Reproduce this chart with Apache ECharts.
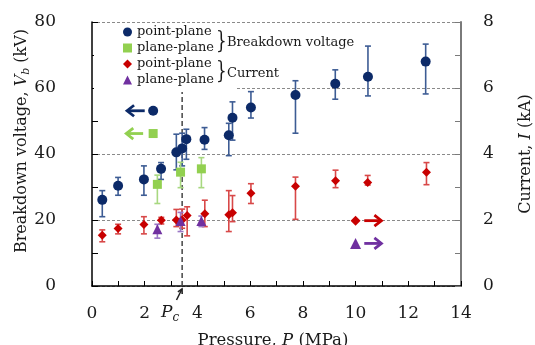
<!DOCTYPE html>
<html><head><meta charset="utf-8">
<script src="https://cdn.jsdelivr.net/npm/echarts@6/dist/echarts.min.js"></script>
<style>html,body{margin:0;padding:0;background:#fff}#c{width:535px;height:345px}</style>
</head><body><div id="c"></div>
<script>
// ---------- data ----------
const X_TICK_LABELS = [0, 2, 4, 6, 8, 10, 12, 14];
const Y_LEFT_TICK_LABELS = [0, 20, 40, 60, 80];
const Y_RIGHT_TICK_LABELS = [0, 2, 4, 6, 8];
const PC = 3.42;

// Breakdown voltage, point-plane (kV)
const BV_PT_P  = [0.39, 0.99, 1.97, 2.62, 3.20, 3.42, 3.58, 4.27, 5.19, 5.33, 6.03, 7.72, 9.23, 10.47, 12.66];
const BV_PT_V  = [26.1, 30.4, 32.3, 35.5, 40.5, 41.7, 44.5, 44.3, 45.7, 51.0, 54.1, 57.9, 61.3, 63.4, 68.0];
const BV_PT_LO = [21.0, 27.5, 27.5, 32.3, 35.2, 36.4, 38.4, 41.4, 39.5, 44.2, 50.9, 46.3, 56.6, 57.6, 58.2];
const BV_PT_HI = [28.9, 32.9, 36.4, 37.4, 46.0, 46.3, 47.5, 48.0, 49.3, 55.8, 58.9, 62.2, 65.5, 72.7, 73.3];

// Breakdown voltage, plane-plane (kV)
const BV_PL_P  = [2.48, 3.36, 4.15];
const BV_PL_V  = [30.8, 34.5, 35.5];
const BV_PL_LO = [25.0, 29.8, 29.8];
const BV_PL_HI = [33.6, 37.5, 38.9];

// Current, point-plane (kA)
const I_PT_P  = [0.39, 0.99, 1.97, 2.63, 3.20, 3.42, 3.61, 4.28, 5.19, 5.33, 6.03, 7.72, 9.24, 10.46, 12.69];
const I_PT_I  = [1.54, 1.74, 1.86, 1.99, 2.00, 2.00, 2.14, 2.19, 2.16, 2.22, 2.81, 3.02, 3.19, 3.14, 3.45];
const I_PT_LO = [1.34, 1.58, 1.58, 1.88, 1.80, 1.75, 1.52, 1.80, 1.65, 1.95, 2.50, 2.02, 2.98, 3.06, 3.07];
const I_PT_HI = [1.70, 1.87, 2.10, 2.08, 2.32, 2.33, 2.40, 2.60, 2.89, 2.74, 3.10, 3.30, 3.51, 3.35, 3.74];

// Current, plane-plane (kA)
const I_PL_P  = [2.48, 3.36, 4.15];
const I_PL_I  = [1.72, 1.97, 1.97];
const I_PL_LO = [1.45, 1.65, 1.80];
const I_PL_HI = [1.87, 2.23, 2.12];

// axis-indicator annotations (marker + arrow)
const ANN_LEFT_P = [2.32, 2.32];
const ANN_LEFT_V = [53.1, 46.2];
const ANN_LEFT_ARROW_FROM = [2.00, 1.94];
const ANN_LEFT_ARROW_TO   = [1.33, 1.30];
const ANN_RIGHT_P = [10.0, 10.0];
const ANN_RIGHT_I = [1.98, 1.29];
const ANN_RIGHT_ARROW_FROM = [10.33, 10.33];
const ANN_RIGHT_ARROW_TO   = [10.98, 10.98];

// ---------- styles ----------
const FONT = 'DejaVu Serif';
const C_NAVY = '#0c2a68', C_NAVY_ERR = '#3d5c94';
const C_GREEN = '#92d050', C_GREEN_ERR = '#a8d880';
const C_RED = '#c80000', C_RED_ERR = '#d84848';
const C_PURPLE = '#7030a0', C_PURPLE_ERR = '#9b78c6';

const zip4 = (a, b, c, d) => a.map((v, i) => [v, b[i], c[i], d[i]]);
const zip2 = (a, b) => a.map((v, i) => [v, b[i]]);

function errRender(color) {
  return function (params, api) {
    const x = api.value(0), lo = api.value(2), hi = api.value(3);
    const a = api.coord([x, hi]), b = api.coord([x, lo]);
    const w = 3, st = { stroke: color, lineWidth: 1.6 };
    return { type: 'group', children: [
      { type: 'line', shape: { x1: a[0], y1: a[1], x2: b[0], y2: b[1] }, style: st },
      { type: 'line', shape: { x1: a[0] - w, y1: a[1], x2: a[0] + w, y2: a[1] }, style: st },
      { type: 'line', shape: { x1: b[0] - w, y1: b[1], x2: b[0] + w, y2: b[1] }, style: st }
    ]};
  };
}
function errSeries(data, color, yIdx) {
  return { type: 'custom', yAxisIndex: yIdx, data: data, z: 2,
    dimensions: ['x', 'y', 'lo', 'hi'], encode: { x: 0, y: [1, 2, 3] },
    renderItem: errRender(color), silent: true };
}
function arrowRender(params, api) {
  const x1 = api.value(0), y = api.value(1), x2 = api.value(2);
  const color = api.visual('color');
  const a = api.coord([x1, y]), b = api.coord([x2, y]);
  const dir = Math.sign(b[0] - a[0]);
  const L = 7, h = 5.5;
  const st = { stroke: color, lineWidth: 2.8, fill: null, lineJoin: 'miter', lineCap: 'butt' };
  return { type: 'group', children: [
    { type: 'line', shape: { x1: a[0], y1: a[1], x2: b[0] - dir * 1, y2: b[1] }, style: st },
    { type: 'polyline', shape: { points: [[b[0] - dir * L, b[1] - h], [b[0], b[1]], [b[0] - dir * L, b[1] + h]] }, style: st }
  ]};
}

// Pc arrow (below x axis)
const pcTail = [176.5, 300], pcTip = [182, 289];
const pcArrow = (() => {
  const dx = pcTip[0] - pcTail[0], dy = pcTip[1] - pcTail[1];
  const len = Math.hypot(dx, dy), ux = dx / len, uy = dy / len;
  const L = 5, ang = 0.5;
  const rot = (x, y, t) => [x * Math.cos(t) - y * Math.sin(t), x * Math.sin(t) + y * Math.cos(t)];
  const r1 = rot(-ux, -uy, ang), r2 = rot(-ux, -uy, -ang);
  const st = { stroke: '#222', lineWidth: 1.6, fill: null };
  return { type: 'group', z: 10, children: [
    { type: 'line', shape: { x1: pcTail[0], y1: pcTail[1], x2: pcTip[0], y2: pcTip[1] }, style: st },
    { type: 'polyline', shape: { points: [[pcTip[0] + r1[0] * L, pcTip[1] + r1[1] * L], pcTip, [pcTip[0] + r2[0] * L, pcTip[1] + r2[1] * L]] }, style: st }
  ]};
})();

const chart = echarts.init(document.getElementById('c'), null, { renderer: 'canvas' });
const tickLabelStyle = { color: '#1a1a1a', fontFamily: FONT, fontSize: 17 };

const option = {
  animation: false,
  backgroundColor: '#fff',
  grid: { left: 92, right: 74, top: 22, bottom: 59, containLabel: false },
  xAxis: {
    type: 'value', min: 0, max: 14, interval: 2,
    axisLine: { show: true, onZero: false, lineStyle: { color: '#000', width: 1.5 } },
    axisTick: { show: true, inside: true, length: 5, lineStyle: { color: '#000', width: 1 } },
    minorTick: { show: true, splitNumber: 2, length: 5, lineStyle: { color: '#000', width: 1 } },
    splitLine: { show: false }, minorSplitLine: { show: false },
    axisLabel: { margin: 19, ...tickLabelStyle,
      formatter: v => X_TICK_LABELS.includes(v) ? String(v) : '' }
  },
  yAxis: [{
    type: 'value', min: 0, max: 80, interval: 20, position: 'left',
    axisLine: { show: true, onZero: false, lineStyle: { color: '#000', width: 1.5 } },
    axisTick: { show: true, inside: true, length: 6, lineStyle: { color: '#000', width: 1 } },
    minorTick: { show: true, splitNumber: 2, length: 6, lineStyle: { color: '#000', width: 1 } },
    splitLine: { show: true, lineStyle: { color: '#8a8a8a', width: 1, type: [3, 2] } },
    minorSplitLine: { show: false },
    axisLabel: { margin: 36, ...tickLabelStyle,
      formatter: v => Y_LEFT_TICK_LABELS.includes(v) ? String(v) : '' }
  }, {
    type: 'value', min: 0, max: 8, interval: 2, position: 'right',
    axisLine: { show: true, onZero: false, lineStyle: { color: '#7a7a7a', width: 2 } },
    axisTick: { show: true, inside: true, length: 6, lineStyle: { color: '#7a7a7a', width: 1 } },
    minorTick: { show: true, splitNumber: 2, length: 6, lineStyle: { color: '#7a7a7a', width: 1 } },
    splitLine: { show: false }, minorSplitLine: { show: false },
    axisLabel: { margin: 22, ...tickLabelStyle,
      formatter: v => Y_RIGHT_TICK_LABELS.includes(v) ? String(v) : '' }
  }],
  legend: {
    orient: 'vertical', left: 123, top: 24, padding: 0, itemGap: 0,
    itemWidth: 9, itemHeight: 9,
    textStyle: { fontFamily: FONT, fontSize: 13, color: '#1a1a1a', lineHeight: 16 },
    formatter: n => n.trim(),
    data: [
      { name: 'point-plane', icon: 'circle' },
      { name: 'plane-plane', icon: 'rect' },
      { name: 'point-plane ', icon: 'diamond' },
      { name: 'plane-plane ', icon: 'triangle' }
    ]
  },
  graphic: [
    { type: 'rect', z: 3, silent: true, shape: { x: 94, y: 25, width: 141, height: 67 }, style: { fill: '#fff' } },
    { type: 'text', z: 5, x: 216, y: 42, scaleX: 0.7, style: { text: '}', fontFamily: FONT, fontSize: 24, fill: '#1a1a1a', align: 'left', verticalAlign: 'middle' } },
    { type: 'text', z: 5, x: 227, y: 43, style: { text: 'Breakdown voltage', fontFamily: FONT, fontSize: 13, fill: '#1a1a1a', align: 'left', verticalAlign: 'middle' } },
    { type: 'text', z: 5, x: 216, y: 72, scaleX: 0.7, style: { text: '}', fontFamily: FONT, fontSize: 24, fill: '#1a1a1a', align: 'left', verticalAlign: 'middle' } },
    { type: 'text', z: 5, x: 227, y: 74, style: { text: 'Current', fontFamily: FONT, fontSize: 13, fill: '#1a1a1a', align: 'left', verticalAlign: 'middle' } },
    // P_c label
    { type: 'text', z: 5, x: 161, y: 313, style: {
        text: '{p|P}{c|c}', align: 'left', verticalAlign: 'middle', fill: '#1a1a1a',
        rich: { p: { fontFamily: FONT, fontStyle: 'italic', fontSize: 17, fill: '#1a1a1a' },
                c: { fontFamily: FONT, fontStyle: 'italic', fontSize: 12, fill: '#1a1a1a', padding: [9, 0, 0, 0] } } } },
    pcArrow,
    // axis titles
    { type: 'text', z: 5, x: 22, y: 141, rotation: Math.PI / 2, style: {
        text: '{t|Breakdown voltage, }{i|V}{s|b}{t| (kV)}', align: 'center', verticalAlign: 'middle',
        rich: { t: { fontFamily: FONT, fontSize: 16, fill: '#1a1a1a' },
                i: { fontFamily: FONT, fontSize: 16, fontStyle: 'italic', fill: '#1a1a1a' },
                s: { fontFamily: FONT, fontSize: 11, fontStyle: 'italic', fill: '#1a1a1a', padding: [8, 0, 0, 0] } } } },
    { type: 'text', z: 5, x: 526, y: 154, rotation: Math.PI / 2, style: {
        text: '{t|Current, }{i|I}{t| (kA)}', align: 'center', verticalAlign: 'middle',
        rich: { t: { fontFamily: FONT, fontSize: 16, fill: '#1a1a1a' },
                i: { fontFamily: FONT, fontSize: 16, fontStyle: 'italic', fill: '#1a1a1a' } } } },
    { type: 'text', z: 5, x: 273, y: 341, style: {
        text: '{t|Pressure, }{i|P}{t| (MPa)}', align: 'center', verticalAlign: 'middle',
        rich: { t: { fontFamily: FONT, fontSize: 16.5, fill: '#1a1a1a' },
                i: { fontFamily: FONT, fontSize: 16.5, fontStyle: 'italic', fill: '#1a1a1a' } } } }
  ],
  series: [
    // P_c dashed line (covered at top by the legend box)
    { type: 'line', name: 'Pc', yAxisIndex: 0, z: 1, silent: true, symbol: 'none',
      data: [[PC, 0], [PC, 80]], lineStyle: { color: '#444', width: 1.5, type: [5, 3] } },
    errSeries(zip4(BV_PT_P, BV_PT_V, BV_PT_LO, BV_PT_HI), C_NAVY_ERR, 0),
    errSeries(zip4(BV_PL_P, BV_PL_V, BV_PL_LO, BV_PL_HI), C_GREEN_ERR, 0),
    errSeries(zip4(I_PT_P, I_PT_I, I_PT_LO, I_PT_HI), C_RED_ERR, 1),
    errSeries(zip4(I_PL_P, I_PL_I, I_PL_LO, I_PL_HI), C_PURPLE_ERR, 1),
    { type: 'scatter', name: 'point-plane', yAxisIndex: 0, z: 4, symbol: 'circle', symbolSize: 10,
      itemStyle: { color: C_NAVY, opacity: 1 }, data: zip2(BV_PT_P, BV_PT_V) },
    { type: 'scatter', name: 'plane-plane', yAxisIndex: 0, z: 4, symbol: 'rect', symbolSize: 9,
      itemStyle: { color: C_GREEN, opacity: 1 }, data: zip2(BV_PL_P, BV_PL_V) },
    { type: 'scatter', name: 'point-plane ', yAxisIndex: 1, z: 4, symbol: 'diamond', symbolSize: 9,
      itemStyle: { color: C_RED, opacity: 1 }, data: zip2(I_PT_P, I_PT_I) },
    { type: 'scatter', name: 'plane-plane ', yAxisIndex: 1, z: 4, symbol: 'triangle', symbolSize: 10,
      itemStyle: { color: C_PURPLE, opacity: 1 }, data: zip2(I_PL_P, I_PL_I) },
    // annotation markers
    { type: 'scatter', name: 'annL', yAxisIndex: 0, z: 4, silent: true, itemStyle: { opacity: 1 },
      data: [
        { value: [ANN_LEFT_P[0], ANN_LEFT_V[0]], symbol: 'circle', symbolSize: 10, itemStyle: { color: C_NAVY, opacity: 1 } },
        { value: [ANN_LEFT_P[1], ANN_LEFT_V[1]], symbol: 'rect', symbolSize: 9, itemStyle: { color: C_GREEN, opacity: 1 } }
      ] },
    { type: 'scatter', name: 'annR', yAxisIndex: 1, z: 4, silent: true, itemStyle: { opacity: 1 },
      data: [
        { value: [ANN_RIGHT_P[0], ANN_RIGHT_I[0]], symbol: 'diamond', symbolSize: 10, itemStyle: { color: C_RED, opacity: 1 } },
        { value: [ANN_RIGHT_P[1], ANN_RIGHT_I[1]], symbol: 'triangle', symbolSize: 11, itemStyle: { color: C_PURPLE, opacity: 1 } }
      ] },
    { type: 'custom', name: 'arrL', yAxisIndex: 0, z: 4, silent: true, renderItem: arrowRender,
      encode: { x: [0, 2], y: 1 },
      data: [
        { value: [ANN_LEFT_ARROW_FROM[0], ANN_LEFT_V[0], ANN_LEFT_ARROW_TO[0]], itemStyle: { color: C_NAVY } },
        { value: [ANN_LEFT_ARROW_FROM[1], ANN_LEFT_V[1], ANN_LEFT_ARROW_TO[1]], itemStyle: { color: C_GREEN } }
      ] },
    { type: 'custom', name: 'arrR', yAxisIndex: 1, z: 4, silent: true, renderItem: arrowRender,
      encode: { x: [0, 2], y: 1 },
      data: [
        { value: [ANN_RIGHT_ARROW_FROM[0], ANN_RIGHT_I[0], ANN_RIGHT_ARROW_TO[0]], itemStyle: { color: C_RED } },
        { value: [ANN_RIGHT_ARROW_FROM[1], ANN_RIGHT_I[1], ANN_RIGHT_ARROW_TO[1]], itemStyle: { color: C_PURPLE } }
      ] }
  ]
};
chart.setOption(option);
</script>
</body></html>
